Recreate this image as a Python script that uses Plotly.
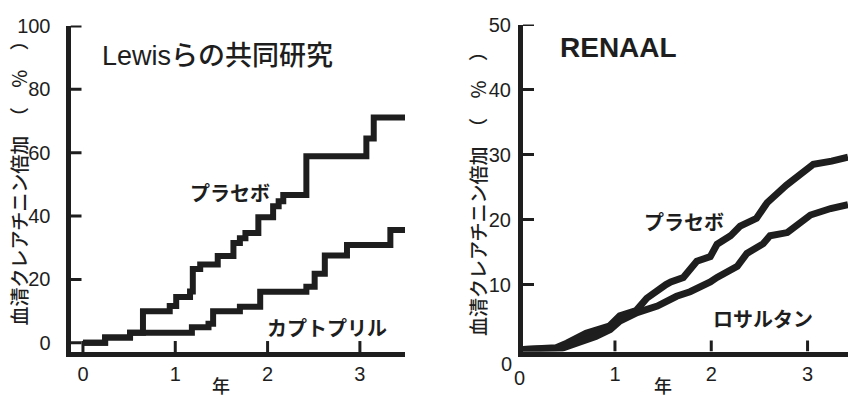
import plotly.graph_objects as go

# Lewis et al.: Kaplan-Meier step curves (years, % with doubled serum creatinine)
lewis_placebo_t = [0, 0.24, 0.51, 0.65, 0.94, 1.01, 1.16, 1.19, 1.27, 1.46, 1.63, 1.70, 1.76,
                   1.90, 2.06, 2.12, 2.17, 2.42, 3.07, 3.15, 3.49]
lewis_placebo_y = [0, 1.7, 3.2, 10.0, 11.6, 14.5, 16.2, 23.3, 24.7, 27.4, 31.5, 33.0, 34.7,
                   39.6, 43.1, 44.7, 46.7, 58.9, 64.5, 71.1, 71.1]
lewis_capto_t = [0, 0.24, 0.51, 1.18, 1.36, 1.41, 1.70, 1.92, 2.42, 2.51, 2.62, 2.86, 3.33, 3.49]
lewis_capto_y = [0, 1.7, 3.2, 4.9, 6.0, 10.0, 11.4, 16.1, 17.7, 21.8, 27.6, 30.9, 35.6, 35.6]

# RENAAL curves
renaal_placebo_t = [0, 0.39, 0.50, 0.70, 0.94, 1.05, 1.22, 1.33, 1.53, 1.58, 1.71, 1.85, 1.99,
                    2.06, 2.20, 2.30, 2.47, 2.58, 2.78, 3.06, 3.25, 3.42]
renaal_placebo_y = [0, 0.3, 1.0, 2.5, 3.6, 5.2, 6.0, 7.9, 10.0, 10.4, 11.1, 13.6, 14.3,
                    16.2, 17.5, 19.0, 20.2, 22.6, 25.3, 28.5, 29.0, 29.6]
renaal_losartan_t = [0, 0.45, 0.60, 0.80, 0.95, 1.05, 1.23, 1.44, 1.64, 1.78, 1.99, 2.06,
                     2.27, 2.37, 2.54, 2.61, 2.79, 2.89, 3.03, 3.24, 3.42]
renaal_losartan_y = [0, 0.2, 1.0, 2.0, 3.1, 4.4, 5.7, 6.7, 8.2, 8.9, 10.4, 11.1,
                     12.8, 14.8, 16.3, 17.5, 18.0, 19.0, 20.7, 21.7, 22.3]

left_yticks = [0, 20, 40, 60, 80, 100]
left_xticks = [0, 1, 2, 3]
right_yticks = [10, 20, 30, 40, 50]
right_xticks = [0, 1, 2, 3]

LEFT_XRANGE = [-0.135, 3.4886]
LEFT_YRANGE = [-2.9, 100.15]
RIGHT_XRANGE = [0.045, 3.42]
RIGHT_YRANGE = [-0.3, 50]

INK = "#1e1e1e"
NUM_FONT = dict(family="Liberation Sans Narrow, Liberation Sans, sans-serif", size=20, color=INK)
JP = "Noto Sans CJK JP"
Y_TITLE = "血清クレアチニン倍加　（　％　）"

fig = go.Figure()
fig.add_trace(go.Scatter(x=lewis_placebo_t, y=lewis_placebo_y, mode="lines", line_shape="hv",
                         line=dict(color=INK, width=6), xaxis="x", yaxis="y"))
fig.add_trace(go.Scatter(x=lewis_capto_t, y=lewis_capto_y, mode="lines", line_shape="hv",
                         line=dict(color=INK, width=6), xaxis="x", yaxis="y"))
fig.add_trace(go.Scatter(x=renaal_placebo_t, y=renaal_placebo_y, mode="lines",
                         line=dict(color=INK, width=7), xaxis="x2", yaxis="y2"))
fig.add_trace(go.Scatter(x=renaal_losartan_t, y=renaal_losartan_y, mode="lines",
                         line=dict(color=INK, width=7), xaxis="x2", yaxis="y2"))

axis_common = dict(showline=True, linecolor=INK, linewidth=5, ticks="", showgrid=False,
                   zeroline=False, tickfont=NUM_FONT, layer="above traces")

fig.update_layout(
    width=848, height=400, margin=dict(l=0, r=0, t=0, b=0),
    paper_bgcolor="white", plot_bgcolor="white", showlegend=False,
    xaxis=dict(domain=[70.5 / 848, 405 / 848], range=LEFT_XRANGE, tickvals=left_xticks,
               anchor="y", ticklabelstandoff=0, **axis_common),
    yaxis=dict(domain=[47.5 / 400, 385 / 400], range=LEFT_YRANGE, tickvals=left_yticks,
               anchor="x", ticklabelstandoff=11, **axis_common),
    xaxis2=dict(domain=[523 / 848, 1.0], range=RIGHT_XRANGE, tickvals=right_xticks,
                ticktext=["", "1", "2", "3"], anchor="y2", ticklabelstandoff=0, **axis_common),
    yaxis2=dict(domain=[48 / 400, 386 / 400], range=RIGHT_YRANGE, tickvals=right_yticks,
                anchor="x2", ticklabelstandoff=3, **axis_common),
)

# short inward tick marks, drawn from the tick value lists
TICK = dict(color=INK, width=3)
for xa, ya, xt, yt, xr, yr in [("x", "y", left_xticks, left_yticks, LEFT_XRANGE, LEFT_YRANGE),
                               ("x2", "y2", right_xticks[1:], right_yticks, RIGHT_XRANGE, RIGHT_YRANGE)]:
    for v in xt:
        fig.add_shape(type="line", xref=xa, yref=ya, x0=v, x1=v, ysizemode="pixel",
                      yanchor=yr[0], y0=0, y1=11, line=TICK, layer="above")
    for v in yt:
        fig.add_shape(type="line", xref=xa, yref=ya, y0=v, y1=v, xsizemode="pixel",
                      xanchor=xr[0], x0=0, x1=11, line=TICK, layer="above")

annotations = [
    # panel titles
    dict(text="Lewisらの共同研究", x=100, y=47, font=dict(family="Liberation Sans, " + JP, size=27, color=INK, weight=500), xanchor="left"),
    dict(text="<b>RENAAL</b>", x=558, y=38, font=dict(family="Liberation Sans, Arial, sans-serif", size=28, color=INK), xanchor="left"),
    # curve labels
    dict(text="プラセボ", x=230, y=188, font=dict(family=JP, size=20, color=INK, weight=700)),
    dict(text="カプトプリル", x=327, y=327, font=dict(family=JP, size=20, color=INK, weight=700)),
    dict(text="プラセボ", x=684, y=218, font=dict(family=JP, size=20, color=INK, weight=700)),
    dict(text="ロサルタン", x=763, y=318, font=dict(family=JP, size=20, color=INK, weight=700)),
    # axis titles
    dict(text=Y_TITLE, x=18, y=173, textangle=-90, font=dict(family=JP, size=19, color=INK, weight=500)),
    dict(text=Y_TITLE, x=477, y=184, textangle=-90, font=dict(family=JP, size=19, color=INK, weight=500)),
    dict(text="年", x=221, y=387, font=dict(family=JP, size=18, color=INK, weight=500)),
    dict(text="年", x=663, y=387, font=dict(family=JP, size=18, color=INK, weight=500)),
    # origin labels of the RENAAL panel
    dict(text="0", x=507, y=365, font=NUM_FONT),
    dict(text="0", x=519, y=379, font=NUM_FONT),
]
for a in annotations:
    a.setdefault("xanchor", "center")
    fig.add_annotation(xref="paper", yref="paper", x=a.pop("x") / 848, y=1 - a.pop("y") / 400,
                       yanchor="middle", showarrow=False, **a)

fig.write_html("out.html")
